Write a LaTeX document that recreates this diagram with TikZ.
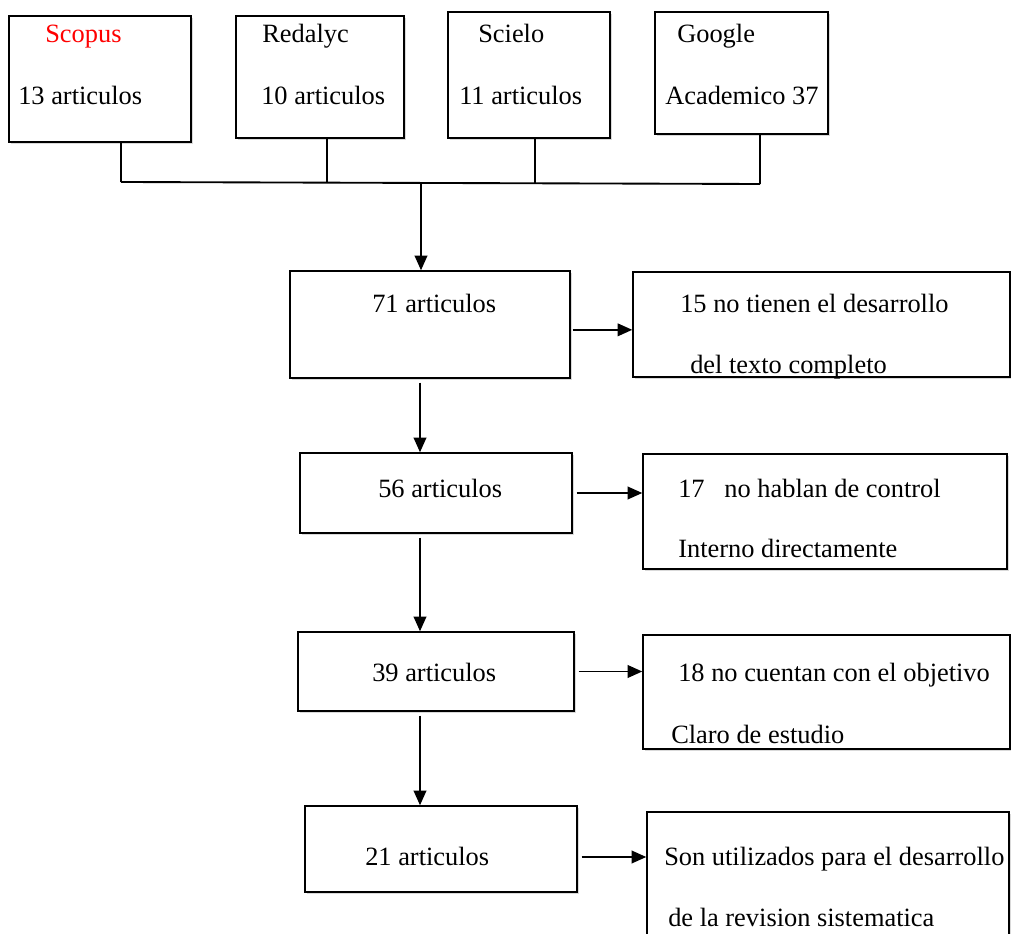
\documentclass[tikz,border=0pt]{standalone}
\usepackage{fontspec}
\setmainfont{Liberation Serif}
\usetikzlibrary{arrows.meta,positioning,shadows}

\begin{document}
\begin{tikzpicture}[
  x=0.75pt, y=-0.75pt,
  box/.style={draw, line width=1.1pt, fill=white, inner sep=0pt,
    drop shadow={opacity=0.3, shadow xshift=1.5pt, shadow yshift=-1.5pt}},
  size/.style 2 args={minimum width=#1*0.75pt, minimum height=#2*0.75pt},
  txt/.style={anchor=base west, inner sep=0pt, font=\fontsize{19.8}{24}\selectfont},
  arr/.style={-{Triangle[length=11pt, width=9.5pt]}, line width=1.3pt},
  lnk/.style={line width=1.4pt}
]
\useasboundingbox (0,0) rectangle (1011,934);

% sources
\node[box, size={182}{126}] (scopus) at (100,79) {};
\node[box, size={168}{122}] (redalyc) at (320,77) {};
\node[box, size={162}{126}] (scielo) at (529,75) {};
\node[box, size={173}{122}] (google) at (741.5,73) {};
\node[txt, red] (t-scopus) at (45,43) {Scopus};
\node[txt] (n-scopus) at (18,105) {13 articulos};
\node[txt] (t-redalyc) at (262,43) {Redalyc};
\node[txt] (n-redalyc) at (261,105) {10 articulos};
\node[txt] (t-scielo) at (478,43) {Scielo};
\node[txt] (n-scielo) at (459,105) {11 articulos};
\node[txt] (t-google) at (677,43) {Google};
\node[txt] (n-google) at (665,105) {Academico 37};

% filtering steps
\node[box, size={280}{107}] (n71) at (430,324.5) {};
\node[box, size={377}{105}] (r15) at (821.5,324.5) {};
\node[box, size={272}{80}] (n56) at (436,493) {};
\node[box, size={364}{115}] (r17) at (825,511.5) {};
\node[box, size={276}{79}] (n39) at (436,671.5) {};
\node[box, size={367}{114}] (r18) at (826.5,692) {};
\node[box, size={272}{86}] (n21) at (441,849) {};
\node[box, size={362}{156}] (r21) at (828,890) {};

\node[txt] (t71) at (372,313) {71 articulos};
\node[txt] (t15a) at (680,313) {15 no tienen el desarrollo};
\node[txt] (t15b) at (690,374) {del texto completo};
\node[txt] (t56) at (378,497) {56 articulos};
\node[txt] (t17a) at (678,497) {17\ \ \ no hablan de control};
\node[txt] (t17b) at (678,557) {Interno directamente};
\node[txt] (t39) at (372,681) {39 articulos};
\node[txt] (t18a) at (678,681) {18 no cuentan con el objetivo};
\node[txt] (t18b) at (671,743) {Claro de estudio};
\node[txt] (t21) at (365,865) {21 articulos};
\node[txt] (t21a) at (664,865) {Son utilizados para el desarrollo};
\node[txt] (t21b) at (668,926) {de la revision sistematica};

% joining the sources
\coordinate (j1) at (121,182);
\coordinate (j2) at (327,182);
\coordinate (j3) at (535,183);
\coordinate (j4) at (760,184);
\coordinate (jm) at (421,184);
\draw[lnk] (scopus.south -| j1) -- (j1);
\draw[lnk] (redalyc.south -| j2) -- (j2);
\draw[lnk] (scielo.south -| j3) -- (j3);
\draw[lnk] (google.south -| j4) -- (j4);
\draw[lnk] (j1) -- (j4);
\draw[arr] (jm) -- (jm |- n71.north);

% down the chain
\coordinate (ax) at (420,0);
\draw[arr, shorten <=3pt] (n71.south -| ax) -- (n56.north -| ax);
\draw[arr, shorten <=3pt] (n56.south -| ax) -- (n39.north -| ax);
\draw[arr, shorten <=3pt] (n39.south -| ax) -- (n21.north -| ax);

% excluded
\coordinate (e71) at ([yshift=-4pt]n71.east);
\coordinate (e21) at ([yshift=-6pt]n21.east);
\draw[arr, shorten <=1.5pt] (e71) -- (r15.west |- e71);
\draw[arr, shorten <=3pt] (n56.east) -- (r17.west |- n56.east);
\draw[arr, shorten <=3pt] (n39.east) -- (r18.west |- n39.east);
\draw[arr, shorten <=3pt] (e21) -- (r21.west |- e21);
\end{tikzpicture}
\end{document}
